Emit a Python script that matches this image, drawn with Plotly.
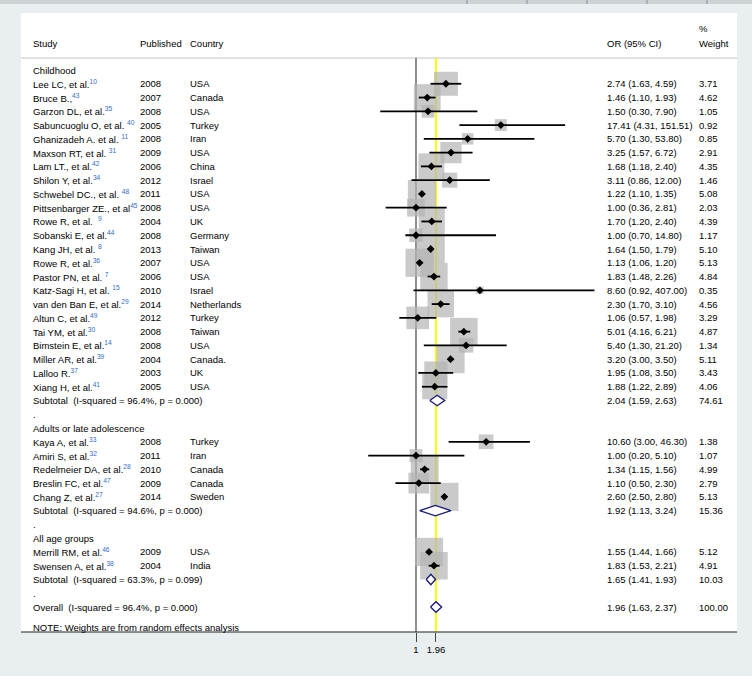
import numpy as np
import plotly.graph_objects as go

# study level data
groups = ["Childhood", "Adults or late adolescence", "All age groups"]

study = ["Lee LC, et al.", "Bruce B.,", "Garzon DL, et al.", "Sabuncuoglu O, et al. ",
         "Ghanizadeh A. et al. ", "Maxson RT, et al. ", "Lam LT., et al.", "Shilon Y, et al.",
         "Schwebel DC., et al. ", "Pittsenbarger ZE., et al", "Rowe R, et al.  ", "Sobanski E, et al.",
         "Kang JH, et al. ", "Rowe R, et al.", "Pastor PN, et al. ", "Katz-Sagi H, et al. ",
         "van den Ban E, et al.", "Altun C, et al.", "Tai YM, et al.", "Bimstein E, et al.",
         "Miller AR, et al.", "Lalloo R.", "Xiang H, et al.",
         "Kaya A, et al.", "Amiri S, et al.", "Redelmeier DA, et al.", "Breslin FC, et al.",
         "Chang Z, et al.",
         "Merrill RM, et al.", "Swensen A, et al."]
ref = ["10", "43", "35", "40", "11", "31", "42", "34", "48", "45", "9", "44", "8", "36", "7",
       "15", "29", "49", "30", "14", "39", "37", "41",
       "33", "32", "28", "47", "27",
       "46", "38"]
year = [2008, 2007, 2008, 2005, 2008, 2009, 2006, 2012, 2011, 2008, 2004, 2008, 2013, 2007,
        2006, 2010, 2014, 2012, 2008, 2008, 2004, 2003, 2005,
        2008, 2011, 2010, 2009, 2014,
        2009, 2004]
country = ["USA", "Canada", "USA", "Turkey", "Iran", "USA", "China", "Israel", "USA", "USA",
           "UK", "Germany", "Taiwan", "USA", "USA", "Israel", "Netherlands", "Turkey", "Taiwan",
           "USA", "Canada.", "UK", "USA",
           "Turkey", "Iran", "Canada", "Canada", "Sweden",
           "USA", "India"]
or_est = [2.74, 1.46, 1.50, 17.41, 5.70, 3.25, 1.68, 3.11, 1.22, 1.00, 1.70, 1.00, 1.64, 1.13,
          1.83, 8.60, 2.30, 1.06, 5.01, 5.40, 3.20, 1.95, 1.88,
          10.60, 1.00, 1.34, 1.10, 2.60,
          1.55, 1.83]
ci_lo = [1.63, 1.10, 0.30, 4.31, 1.30, 1.57, 1.18, 0.86, 1.10, 0.36, 1.20, 0.70, 1.50, 1.06,
         1.48, 0.92, 1.70, 0.57, 4.16, 1.30, 3.00, 1.08, 1.22,
         3.00, 0.20, 1.15, 0.50, 2.50,
         1.44, 1.53]
ci_hi = [4.59, 1.93, 7.90, 151.51, 53.80, 6.72, 2.40, 12.00, 1.35, 2.81, 2.40, 14.80, 1.79, 1.20,
         2.26, 407.00, 3.10, 1.98, 6.21, 21.20, 3.50, 3.50, 2.89,
         46.30, 5.10, 1.56, 2.30, 2.80,
         1.66, 2.21]
weight = [3.71, 4.62, 1.05, 0.92, 0.85, 2.91, 4.35, 1.46, 5.08, 2.03, 4.39, 1.17, 5.10, 5.13,
          4.84, 0.35, 4.56, 3.29, 4.87, 1.34, 5.11, 3.43, 4.06,
          1.38, 1.07, 4.99, 2.79, 5.13,
          5.12, 4.91]
group = [0] * 23 + [1] * 5 + [2] * 2

sub_i2 = [96.4, 94.6, 63.3]
sub_p = [0.000, 0.000, 0.099]
sub_or = [2.04, 1.92, 1.65]
sub_lo = [1.59, 1.13, 1.41]
sub_hi = [2.63, 3.24, 1.93]
sub_wt = [74.61, 15.36, 10.03]

overall_i2, overall_p = 96.4, 0.000
overall_or, overall_lo, overall_hi = 1.96, 1.63, 2.37

W, H = 752, 676
ROW0, ROWH = 70, 13.77   # pixel y of first row, row height
AXIS_Y = 632
X1_PX, LN_PX = 416, 29.7  # pixel of OR=1, pixels per unit of ln(OR)

FONT = "Liberation Sans, Arial, sans-serif"
FS = 9.5
REFCOL = "#2f6cc9"


def px(x):
    return x / W


# row layout
rows_study, rows_head, rows_sub, rows_dot = [], [], [], []
r = 0
for g in range(len(groups)):
    rows_head.append(r)
    r += 1
    for i in range(len(study)):
        if group[i] == g:
            rows_study.append(r)
            r += 1
    rows_sub.append(r)
    r += 1
    rows_dot.append(r)
    r += 1
row_overall = r
row_note = r + 1.45

fig = go.Figure()

# weight boxes
fig.add_trace(go.Scatter(
    x=or_est, y=rows_study, mode="markers", hoverinfo="skip",
    marker=dict(symbol="square", size=[12.46 * np.sqrt(w) for w in weight],
                color="#b3b3b3", line=dict(width=0))))

# confidence intervals
cx, cy = [], []
for lo, hi, rr in zip(ci_lo, ci_hi, rows_study):
    cx += [lo, hi, None]
    cy += [rr, rr, None]
fig.add_trace(go.Scatter(x=cx, y=cy, mode="lines", hoverinfo="skip",
                         line=dict(color="black", width=1.8)))

# point estimates
fig.add_trace(go.Scatter(x=or_est, y=rows_study, mode="markers", hoverinfo="skip",
                         marker=dict(symbol="diamond", size=6, color="black")))

# pooled diamonds
dh = 0.38
for est, lo, hi, rr in list(zip(sub_or, sub_lo, sub_hi, rows_sub)) + \
        [(overall_or, overall_lo, overall_hi, row_overall)]:
    fig.add_trace(go.Scatter(
        x=[lo, est, hi, est, lo], y=[rr, rr - dh, rr, rr + dh, rr],
        mode="lines", fill="toself", fillcolor="white", hoverinfo="skip",
        line=dict(color="#1b1b7e", width=1.4)))

# text columns
ann = []


def txt(x, y, s, anchor="left"):
    ann.append(dict(x=px(x), y=y, xref="paper", yref="y", text=s, showarrow=False,
                    xanchor=anchor, yanchor="middle", font=dict(size=FS, color="black")))


hy = -1.96
txt(31, hy, "Study")
txt(138, hy, "Published")
txt(188, hy, "Country")
txt(605, hy, "OR (95% CI)")
txt(697, hy - 1.02, "%")
txt(697, hy, "Weight")

for g in range(len(groups)):
    txt(31, rows_head[g], groups[g])
    txt(31, rows_sub[g], "Subtotal  (I-squared = %.1f%%, p = %.3f)" % (sub_i2[g], sub_p[g]))
    txt(605, rows_sub[g], "%.2f (%.2f, %.2f)" % (sub_or[g], sub_lo[g], sub_hi[g]))
    txt(697, rows_sub[g], "%.2f" % sub_wt[g])
    txt(31, rows_dot[g], ".")

for i, rr in enumerate(rows_study):
    txt(31, rr, study[i] + "<sup><span style='color:%s'>%s</span></sup>" % (REFCOL, ref[i]))
    txt(138, rr, str(year[i]))
    txt(188, rr, country[i])
    txt(605, rr, "%.2f (%.2f, %.2f)" % (or_est[i], ci_lo[i], ci_hi[i]))
    txt(697, rr, "%.2f" % weight[i])

txt(31, row_overall, "Overall  (I-squared = %.1f%%, p = %.3f)" % (overall_i2, overall_p))
txt(605, row_overall, "%.2f (%.2f, %.2f)" % (overall_or, overall_lo, overall_hi))
txt(697, row_overall, "100.00")
txt(31, row_note, "NOTE: Weights are from random effects analysis")

shapes = [
    # top ruler strip
    dict(type="rect", xref="paper", yref="paper", x0=0, x1=1, y0=1 - 4 / H, y1=1,
         fillcolor="#cdd2d5", line=dict(width=0), layer="below"),
    # white page
    dict(type="rect", xref="paper", yref="paper", x0=px(21), x1=px(737),
         y0=1 - AXIS_Y / H, y1=1 - 13 / H, fillcolor="white", line=dict(width=0), layer="below"),
    # header rule
    dict(type="line", xref="paper", yref="paper", x0=px(21), x1=px(737),
         y0=1 - 58 / H, y1=1 - 58 / H, line=dict(color="#c4c4c4", width=1), layer="below"),
    # bottom rule
    dict(type="line", xref="paper", yref="paper", x0=px(21), x1=px(737),
         y0=1 - AXIS_Y / H, y1=1 - AXIS_Y / H, line=dict(color="#222222", width=1.2)),
    # overall effect line
    dict(type="line", xref="x", yref="paper", x0=overall_or, x1=overall_or,
         y0=1 - AXIS_Y / H, y1=1 - 58 / H, line=dict(color="#ffff00", width=2), layer="below"),
    # null line
    dict(type="line", xref="x", yref="paper", x0=1, x1=1,
         y0=1 - AXIS_Y / H, y1=1 - 58 / H, line=dict(color="#444444", width=1.2), layer="below"),
]
for rx in [467, 527, 587, 647, 707]:
    shapes.append(dict(type="line", xref="paper", yref="paper", x0=px(rx), x1=px(rx),
                       y0=1 - 4 / H, y1=1, line=dict(color="#8a8f93", width=1)))

lx0 = (0 - X1_PX) / LN_PX / np.log(10)
lx1 = (W - X1_PX) / LN_PX / np.log(10)
y_top = (0 - ROW0) / ROWH
y_bot = (AXIS_Y - ROW0) / ROWH

fig.update_layout(
    width=W, height=H, margin=dict(l=0, r=0, t=0, b=0),
    paper_bgcolor="#e9eff1", plot_bgcolor="rgba(0,0,0,0)",
    showlegend=False, font=dict(family=FONT, size=FS, color="black"),
    annotations=ann, shapes=shapes,
    xaxis=dict(type="log", range=[lx0, lx1], domain=[0, 1],
               tickvals=[1, overall_or], ticktext=["1", "1.96"],
               ticks="outside", ticklen=9, tickcolor="#444444", tickwidth=1.2,
               showgrid=False, zeroline=False, showline=False,
               tickfont=dict(size=FS, color="black")),
    yaxis=dict(range=[y_bot, y_top], domain=[1 - AXIS_Y / H, 1], visible=False,
               showgrid=False, zeroline=False),
)

# drop the default page margin so the figure sits at the window corner
fig.write_html("out.html", config={"displayModeBar": False},
               post_script="document.body.style.margin='0';"
                           "document.body.style.background='#e9eff1';")
